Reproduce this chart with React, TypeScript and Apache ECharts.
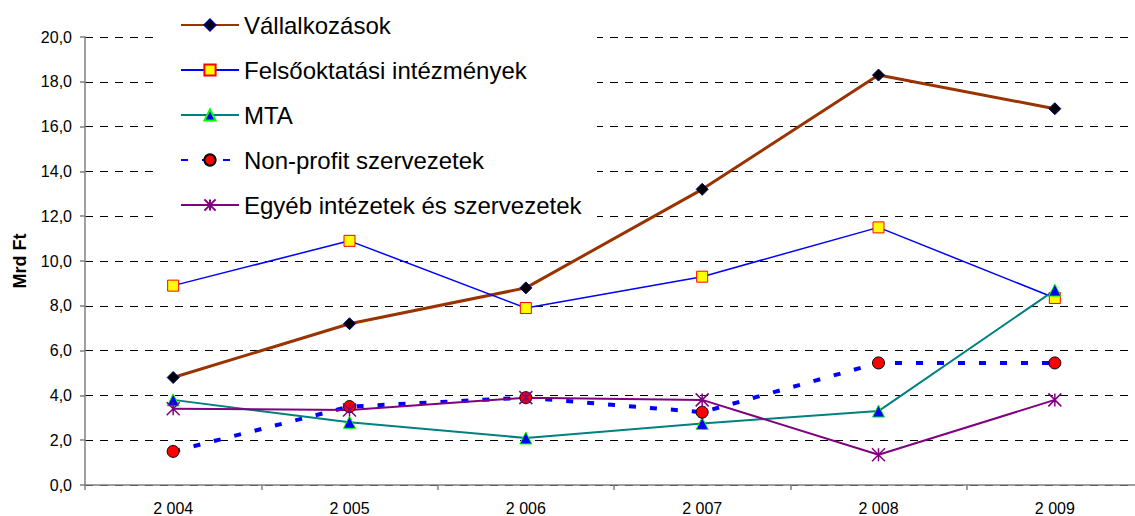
import React, { useEffect, useRef } from "react";
import * as echarts from "echarts";

const years = ["2 004", "2 005", "2 006", "2 007", "2 008", "2 009"];
const vallalkozasok = [4.8, 7.2, 8.8, 13.2, 18.3, 16.8];
const felsooktatasi = [8.9, 10.9, 7.9, 9.3, 11.5, 8.35];
const mta = [3.8, 2.8, 2.1, 2.75, 3.3, 8.7];
const nonprofit = [1.5, 3.5, 3.9, 3.25, 5.45, 5.45];
const egyeb = [3.4, 3.35, 3.9, 3.8, 1.35, 3.8];
const seriesNames = [
  "Vállalkozások",
  "Felsőoktatási intézmények",
  "MTA",
  "Non-profit szervezetek",
  "Egyéb intézetek és szervezetek",
];

const FONT = "Liberation Sans, Arial, sans-serif";
const asterisk = "path://M0,0L10,10M10,0L0,10M5,0L5,10";

export default function App() {
  const ref = useRef<HTMLDivElement>(null);
  useEffect(() => {
    if (!ref.current) return;
    const chart = echarts.init(ref.current, undefined, { renderer: "svg" });
    chart.setOption({
      animation: false,
      backgroundColor: "#fff",
      textStyle: { fontFamily: FONT },
      grid: { left: 85, top: 37, width: 1058, height: 448, containLabel: false },
      legend: {
        orient: "vertical",
        left: 180,
        top: 13,
        padding: 0,
        itemWidth: 58,
        itemHeight: 14,
        itemGap: 21,
        itemTextGap: 5,
        textStyle: { fontSize: 24, color: "#000", fontFamily: FONT },
        data: seriesNames,
        z: 20,
      },
      graphic: [
        {
          type: "rect",
          left: 155,
          top: 0,
          shape: { width: 442, height: 226 },
          style: { fill: "#fff" },
          z: 5,
          silent: true,
        },
      ],
      xAxis: {
        type: "category",
        data: years,
        boundaryGap: true,
        axisLine: { lineStyle: { color: "#808080", width: 1.5 } },
        axisTick: { show: true, length: 5, lineStyle: { color: "#808080", width: 1.5 } },
        axisLabel: { color: "#000", fontSize: 16, margin: 15, fontFamily: FONT },
        splitLine: { show: false },
      },
      yAxis: {
        type: "value",
        min: 0,
        max: 20,
        interval: 2,
        name: "Mrd Ft",
        nameLocation: "middle",
        nameGap: 56,
        nameRotate: 90,
        nameTextStyle: { fontSize: 18, fontWeight: "bold", color: "#000", fontFamily: FONT },
        axisLine: { show: true, lineStyle: { color: "#808080", width: 1.5 } },
        axisTick: { show: true, length: 5, lineStyle: { color: "#808080", width: 1.5 } },
        axisLabel: {
          color: "#000",
          fontSize: 16,
          margin: 13,
          fontFamily: FONT,
          formatter: (v: number) => v.toFixed(1).replace(".", ","),
        },
        splitLine: { show: true, lineStyle: { color: "#000", type: [8, 7], width: 1 } },
      },
      series: [
        {
          name: seriesNames[0],
          type: "line",
          data: vallalkozasok,
          symbol: "diamond",
          symbolSize: 12,
          lineStyle: { color: "#993300", width: 3 },
          itemStyle: { color: "#000", borderColor: "#000080", borderWidth: 1 },
          z: 4,
        },
        {
          name: seriesNames[1],
          type: "line",
          data: felsooktatasi,
          symbol: "rect",
          symbolSize: 11,
          lineStyle: { color: "#0000ff", width: 1.5 },
          itemStyle: { color: "#ffff00", borderColor: "#ff0000", borderWidth: 1 },
          z: 4,
        },
        {
          name: seriesNames[2],
          type: "line",
          data: mta,
          symbol: "triangle",
          symbolSize: 12,
          lineStyle: { color: "#008080", width: 2 },
          itemStyle: { color: "#0000ff", borderColor: "#00ff00", borderWidth: 1 },
          z: 4,
        },
        {
          name: seriesNames[3],
          type: "line",
          data: nonprofit,
          symbol: "circle",
          symbolSize: 12,
          lineStyle: { color: "#0000ff", width: 4, type: [7, 14] },
          itemStyle: { color: "#ff0000", borderColor: "#000", borderWidth: 1 },
          z: 4,
        },
        {
          name: seriesNames[4],
          type: "line",
          data: egyeb,
          symbol: asterisk,
          symbolSize: 13,
          color: "#800080",
          lineStyle: { color: "#800080", width: 2 },
          itemStyle: { color: "rgba(0,0,0,0)", borderColor: "#800080", borderWidth: 1.5 },
          z: 4,
        },
      ],
    });
    return () => chart.dispose();
  }, []);
  return (
    <div
      ref={ref}
      style={{ position: "fixed", left: 0, top: 0, width: 1150, height: 516 }}
    />
  );
}
